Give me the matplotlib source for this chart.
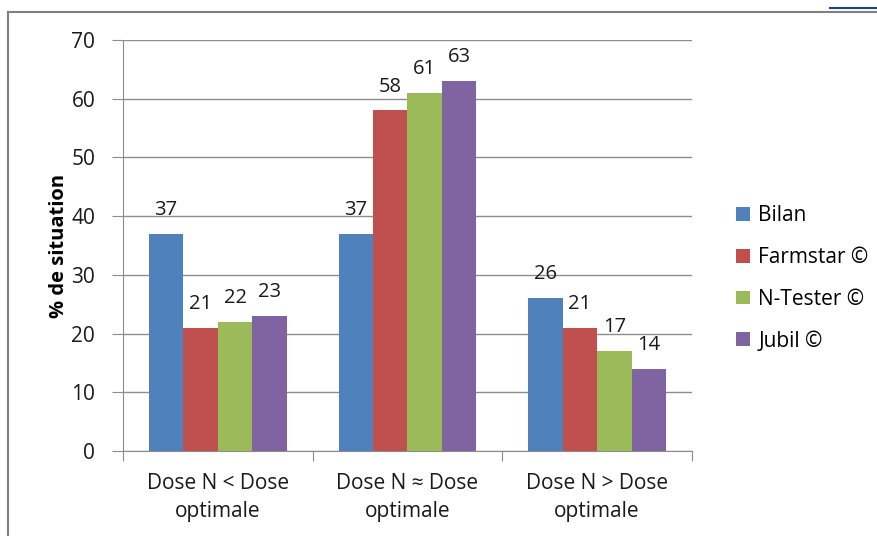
import matplotlib
matplotlib.use("Agg")
import matplotlib.pyplot as plt
import numpy as np

categories = ["Dose N < Dose\noptimale", "Dose N \u2248 Dose\noptimale", "Dose N > Dose\noptimale"]
series = ["Bilan", "Farmstar \u00a9", "N-Tester \u00a9", "Jubil \u00a9"]
bilan = [37, 37, 26]
farmstar = [21, 58, 21]
ntester = [22, 61, 17]
jubil = [23, 63, 14]
colors = ["#4F81BD", "#C0504D", "#9BBB59", "#8064A2"]

plt.rcParams['font.family'] = ['Open Sans', 'DejaVu Sans']

fig = plt.figure(figsize=(8.77, 5.36), dpi=100)
ax = fig.add_axes([123/877, 1 - 451/536, (692 - 123)/877, (451 - 40)/536])

# Excel style: 4 bars + 150% gap per category
w = 1 / 5.5
x = np.arange(len(categories))
for i, (vals, name) in enumerate(zip([bilan, farmstar, ntester, jubil], series)):
    pos = x - 2 * w + (i + 0.5) * w
    ax.bar(pos, vals, w, color=colors[i], label=name, zorder=3)
    for p, v in zip(pos, vals):
        ax.annotate(str(v), (p, v), xytext=(0, 10), textcoords="offset points",
                    ha="center", va="bottom", fontsize=14.5, color="#1a1a1a")

ax.set_xlim(-0.5, 2.5)
ax.set_ylim(0, 70)
ax.set_yticks(range(0, 71, 10))
ax.yaxis.grid(True, color="#8c8c8c", linewidth=1, zorder=0)
ax.set_xticks([-0.5, 0.5, 1.5, 2.5], minor=False)
ax.set_xticklabels([])
ax.set_xticks(x, minor=True)
ax.set_xticklabels(categories, minor=True, fontsize=15, color="#1a1a1a", linespacing=1.45)
ax.tick_params(axis="x", which="minor", length=0, pad=16)
ax.tick_params(axis="x", which="major", length=7, color="#8c8c8c", direction="out")
ax.tick_params(axis="y", length=8, color="#8c8c8c", labelsize=15, labelcolor="#1a1a1a", pad=12)
for s in ["top", "right"]:
    ax.spines[s].set_visible(False)
for s in ["left", "bottom"]:
    ax.spines[s].set_color("#8c8c8c")
ax.set_ylabel("% de situation", fontsize=14.5, fontweight="bold", labelpad=2)

leg = ax.legend(loc="center left", bbox_to_anchor=(1.045, 0.42), frameon=False,
                fontsize=15, handlelength=0.65, handleheight=0.65, handletextpad=0.4,
                labelspacing=1.0)

# outer chart border (left and top) and small blue mark
fig.add_artist(plt.Line2D([8/877, 8/877], [0, 1 - 12/536], color="#7f7f7f", linewidth=1.5))
fig.add_artist(plt.Line2D([8/877, 1], [1 - 12/536, 1 - 12/536], color="#7f7f7f", linewidth=1.5))
fig.add_artist(plt.Line2D([830/877, 1], [1 - 8/536, 1 - 8/536], color="#1f3f8f", linewidth=1.5))

fig.savefig("out.png", dpi=100)
